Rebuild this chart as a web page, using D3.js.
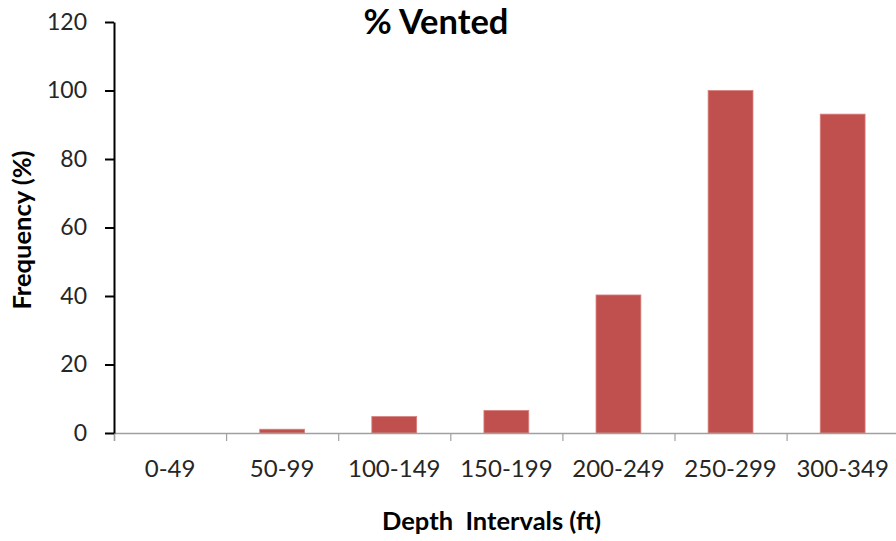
<!DOCTYPE html>
<html>
<head>
<meta charset="utf-8">
<script src="https://cdn.jsdelivr.net/npm/d3@7"></script>
<style>
  html, body { margin: 0; padding: 0; background: #fff; }
  svg { display: block; }
</style>
</head>
<body>
<svg id="chart" width="896" height="541"></svg>
<script>
const categories = ["0-49", "50-99", "100-149", "150-199", "200-249", "250-299", "300-349"];
const ventedPct = [0, 1.1, 4.8, 6.6, 40.3, 100, 93.1];
const yTicks = [0, 20, 40, 60, 80, 100, 120];
const titleText = "% Vented";
const xTitle = "Depth  Intervals (ft)";
const yTitle = "Frequency (%)";

const font = "Lato, 'Open Sans', sans-serif";
const svg = d3.select("#chart");
const plotLeft = 114, plotRight = 898.7, plotTop = 22, plotBottom = 433;

const x = d3.scaleBand().domain(categories).range([plotLeft, plotRight]).paddingInner(0.6).paddingOuter(0.3);
const y = d3.scaleLinear().domain([0, 120]).range([plotBottom, plotTop]);
const xb = d3.scaleLinear().domain([0, categories.length]).range([plotLeft, plotRight]);

// bars
svg.append("g").selectAll("rect").data(categories).join("rect")
  .attr("x", d => x(d))
  .attr("width", x.bandwidth())
  .attr("y", (d, i) => y(ventedPct[i]))
  .attr("height", (d, i) => plotBottom - y(ventedPct[i]))
  .attr("fill", "#C0504D")
  .attr("stroke", "#d7807e")
  .attr("stroke-width", 0.8);

// x axis line and boundary ticks
const gxb = svg.append("g").attr("transform", `translate(0,${plotBottom})`)
  .call(d3.axisBottom(xb).tickValues(d3.range(0, categories.length + 1)).tickSize(8).tickFormat(""));
gxb.select(".domain").attr("stroke", "#a0a0a0").attr("stroke-width", 1.5);
gxb.selectAll(".tick line").attr("stroke", "#a0a0a0").attr("stroke-width", 1.2);

// x labels
const gx = svg.append("g").attr("transform", `translate(0,${plotBottom})`)
  .call(d3.axisBottom(x).tickSize(0));
gx.select(".domain").remove();
gx.selectAll(".tick text")
  .attr("y", 44).attr("dy", 0)
  .attr("font-family", font).attr("font-size", 24).attr("fill", "#262626");

// y axis
const gy = svg.append("g").attr("transform", `translate(${plotLeft},0)`)
  .call(d3.axisLeft(y).tickValues(yTicks).tickSize(9).tickPadding(18).tickSizeOuter(0));
gy.select(".domain").attr("stroke", "#000").attr("stroke-width", 2);
gy.selectAll(".tick line").attr("stroke", "#000").attr("stroke-width", 2);
gy.selectAll(".tick text")
  .attr("font-family", font).attr("font-size", 23).attr("fill", "#262626");

// title
svg.append("text").attr("x", 436).attr("y", 34).attr("text-anchor", "middle")
  .attr("font-family", font).attr("font-weight", "bold").attr("font-size", 34.5)
  .attr("fill", "#000").text(titleText);

// x title
svg.append("text").attr("x", 491.5).attr("y", 530).attr("text-anchor", "middle")
  .attr("font-family", font).attr("font-weight", "bold").attr("font-size", 25.5)
  .attr("fill", "#000").style("white-space", "pre").text(xTitle);

// y title
svg.append("text").attr("transform", "translate(31,230) rotate(-90)").attr("text-anchor", "middle")
  .attr("font-family", font).attr("font-weight", "bold").attr("font-size", 25.5)
  .attr("fill", "#000").text(yTitle);
</script>
</body>
</html>
